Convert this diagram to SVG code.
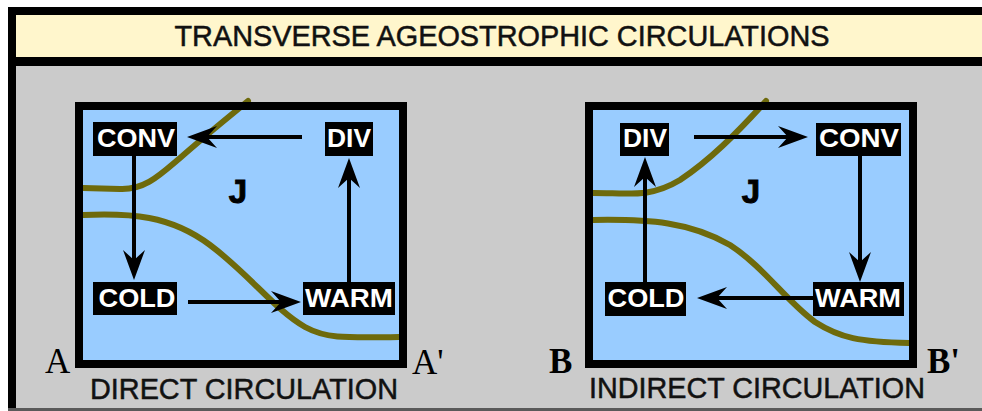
<svg xmlns="http://www.w3.org/2000/svg" width="982" height="411" viewBox="0 0 982 411">
<style>
.frame{fill:none;stroke:#000;stroke-width:8}
.front{fill:none;stroke:#6e6a0c;stroke-width:6;stroke-linecap:round}
.arrow{stroke:#000;stroke-width:4;fill:none;marker-end:url(#ah)}
.box{fill:#000}
.lbl{font-family:"Liberation Sans",Arial,sans-serif;font-weight:bold;font-size:25px;fill:#fff;text-anchor:middle}
.jet{font-family:"Liberation Sans",Arial,sans-serif;font-weight:bold;font-size:33px;fill:#000;stroke:#000;stroke-width:1;text-anchor:middle}
.cap{font-family:"Liberation Sans",Arial,sans-serif;font-size:29px;fill:#111;stroke:#111;stroke-width:0.5}
.pt{font-family:"Liberation Serif","Times New Roman",serif;font-size:35px;fill:#000}
</style>
<defs>
<marker id="ah" markerUnits="userSpaceOnUse" markerWidth="32" markerHeight="26" viewBox="0 0 32 26" refX="10" refY="13" orient="auto">
<path d="M0,2 L30,13 L0,24 L10,13 Z" fill="#000"/>
</marker>
</defs>
<rect x="0" y="0" width="982" height="411" fill="#fff"/>
<rect x="8" y="7" width="974" height="402" fill="#000"/>
<rect x="16" y="15" width="966" height="42" fill="#fff6cc"/>
<rect x="16" y="66" width="966" height="342" fill="#cbcbcb"/>
<rect x="8" y="408" width="974" height="3" fill="#5a5a5a"/>
<text x="502" y="46" font-family="'Liberation Sans',Arial,sans-serif" font-size="29" fill="#111" stroke="#111" stroke-width="0.5" text-anchor="middle" textLength="655" lengthAdjust="spacingAndGlyphs">TRANSVERSE AGEOSTROPHIC CIRCULATIONS</text>

<g id="direct-panel">
<rect x="79" y="106" width="324" height="258" fill="#99ccff"/>
<path class="front" d="M83,188 L120,189 C145,190 160,175 180,158 C205,136 225,120 248,101"/>
<path class="front" d="M83,215 C130,213 170,215 210,245 C250,275 275,310 305,327 C325,338 340,338 399,337"/>
<rect class="frame" x="79" y="106" width="324" height="258"/>
<text class="jet" x="238" y="203">J</text>
</g>
<g id="indirect-panel">
<rect x="589" y="106" width="324" height="258" fill="#99ccff"/>
<path class="front" d="M593,193 C630,193 650,198 680,180 C710,160 735,135 766,101"/>
<path class="front" d="M593,220 C650,219 690,222 730,245 C765,268 785,300 815,322 C840,338 860,342 909,343"/>
<rect class="frame" x="589" y="106" width="324" height="258"/>
<text class="jet" x="751" y="203">J</text>
</g>

<g id="connectors">
<line class="arrow" x1="302" y1="137" x2="207" y2="137"/>
<line class="arrow" x1="134" y1="156" x2="134" y2="260"/>
<line class="arrow" x1="188" y1="302" x2="281" y2="302"/>
<line class="arrow" x1="349" y1="282" x2="349" y2="178"/>
<line class="arrow" x1="694" y1="137" x2="788" y2="137"/>
<line class="arrow" x1="860" y1="156" x2="860" y2="262"/>
<line class="arrow" x1="813" y1="298" x2="717" y2="298"/>
<line class="arrow" x1="645" y1="282" x2="645" y2="177"/>
</g>

<g id="direct-conv"><rect class="box" x="93" y="122" width="84" height="34"/><text class="lbl" x="136" y="147" textLength="78" lengthAdjust="spacingAndGlyphs">CONV</text></g>
<g id="direct-div"><rect class="box" x="325" y="122" width="48" height="34"/><text class="lbl" x="349" y="147" textLength="44" lengthAdjust="spacingAndGlyphs">DIV</text></g>
<g id="direct-cold"><rect class="box" x="93" y="282" width="84" height="33"/><text class="lbl" x="137" y="307" textLength="77" lengthAdjust="spacingAndGlyphs">COLD</text></g>
<g id="direct-warm"><rect class="box" x="303" y="282" width="92" height="33"/><text class="lbl" x="349" y="307" textLength="88" lengthAdjust="spacingAndGlyphs">WARM</text></g>

<g id="indirect-div"><rect class="box" x="620" y="123" width="49" height="33"/><text class="lbl" x="645" y="147" textLength="44" lengthAdjust="spacingAndGlyphs">DIV</text></g>
<g id="indirect-conv"><rect class="box" x="816" y="123" width="85" height="33"/><text class="lbl" x="859" y="147" textLength="80" lengthAdjust="spacingAndGlyphs">CONV</text></g>
<g id="indirect-cold"><rect class="box" x="605" y="282" width="81" height="34"/><text class="lbl" x="646" y="307" textLength="77" lengthAdjust="spacingAndGlyphs">COLD</text></g>
<g id="indirect-warm"><rect class="box" x="813" y="282" width="91" height="34"/><text class="lbl" x="858" y="307" textLength="86" lengthAdjust="spacingAndGlyphs">WARM</text></g>

<g id="labels">
<text class="pt" x="45" y="373">A</text>
<text class="pt" x="412" y="374">A'</text>
<text class="pt" x="549" y="373" font-weight="bold">B</text>
<text class="pt" x="927" y="373" font-weight="bold">B'</text>
<text class="cap" x="90" y="399" textLength="308" lengthAdjust="spacingAndGlyphs">DIRECT CIRCULATION</text>
<text class="cap" x="589" y="398" textLength="336" lengthAdjust="spacingAndGlyphs">INDIRECT CIRCULATION</text>
</g>
</svg>
